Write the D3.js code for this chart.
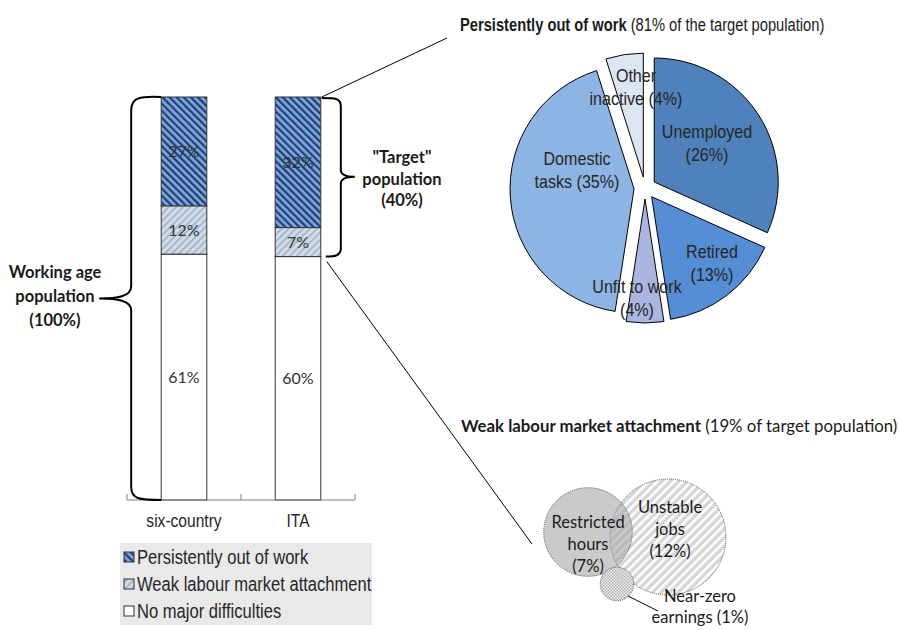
<!DOCTYPE html>
<html>
<head>
<meta charset="utf-8">
<script src="https://cdn.jsdelivr.net/npm/d3@7"></script>
<style>
  html, body { margin: 0; padding: 0; background: #fff; }
  svg { display: block; }
  .narrow { font-family: "Liberation Sans", Arial, sans-serif; }
  .cal { font-family: Lato, "Open Sans", sans-serif; }
</style>
</head>
<body>
<div id="chart"></div>
<script>
/**
 * Working age population breakdown: stacked bars, pie and Venn diagram
 */

// ---- Data ----
const CATEGORIES = ['six-country', 'ITA'];
const SERIES = ['Persistently out of work', 'Weak labour market attachment', 'No major difficulties'];
const OUT_OF_WORK = [27, 32.4];
const WEAK_ATTACHMENT = [12, 7.2];
const NO_DIFFICULTIES = [61, 60.4];

const PIE_LABELS = ['Unemployed', 'Retired', 'Unfit to work', 'Domestic tasks', 'Other inactive'];
const PIE_VALUES = [26, 13, 4, 35, 4];

const VENN_LABELS = ['Restricted hours', 'Unstable jobs', 'Near-zero earnings'];
const VENN_VALUES = [7, 12, 1];

const TARGET_SHARE = 40;
const OUT_OF_WORK_SHARE = 81;
const WEAK_SHARE = 19;

// ---- Layout ----
const W = 899, H = 630;
const BAR = { x0: 127, x1: 355, top: 97, bottom: 500 };
const PIE = { cx: 645, cy: 188, r: 124, explode: 11, lineHeight: 23 };
const PIE_COLORS = ['#4f81bd', '#558ed5', '#aab6e0', '#8eb4e3', '#dce6f2'];
// label centre offsets from pie centre, and word index where the line breaks
const PIE_LABEL_POS = [[62, -45, 1], [67, 75, 1], [-8, 110, 3], [-68, -18, 1], [-9, -101, 1]];
const VENN_POS = [[588, 532], [668, 537], [617, 584]];
// condensed look (Arial Narrow is not available): horizontal squeeze
const NARROW = 0.85;

const svg = d3.select('#chart').append('svg')
    .attr('width', W)
    .attr('height', H)
    .attr('viewBox', `0 0 ${W} ${H}`);

// ---- Patterns ----
const defs = svg.append('defs');

function stripes(id, bg, fg, size, lineW, angle) {
    const p = defs.append('pattern')
        .attr('id', id)
        .attr('patternUnits', 'userSpaceOnUse')
        .attr('width', size)
        .attr('height', size)
        .attr('patternTransform', `rotate(${angle})`);
    p.append('rect').attr('width', size).attr('height', size).attr('fill', bg);
    p.append('rect').attr('width', lineW).attr('height', size).attr('fill', fg);
}
stripes('patOut', '#7ea6dc', '#1f3f73', 5, 2.2, -45);
stripes('patWeak', '#dadada', '#8db3e2', 5, 1.6, 45);
stripes('patUnstable', '#d6d6d6', '#ffffff', 6, 2.6, 45);

const chk = defs.append('pattern')
    .attr('id', 'patNear')
    .attr('patternUnits', 'userSpaceOnUse')
    .attr('width', 3).attr('height', 3);
chk.append('rect').attr('width', 3).attr('height', 3).attr('fill', '#f2f2f2');
chk.append('rect').attr('width', 1.5).attr('height', 1.5).attr('fill', '#b0b0b0');
chk.append('rect').attr('x', 1.5).attr('y', 1.5).attr('width', 1.5).attr('height', 1.5).attr('fill', '#b0b0b0');

const SERIES_FILLS = ['url(#patOut)', 'url(#patWeak)', '#ffffff'];

/**
 * Multi-line text block centred on (cx, cy), optionally squeezed horizontally
 */
function block(g, lines, cx, cy, lh, cls, size, weight, sx = 1, anchor = 'middle') {
    const t = g.append('g')
        .attr('transform', `translate(${cx},${cy}) scale(${sx},1)`)
        .append('text')
        .attr('class', cls)
        .attr('text-anchor', anchor)
        .attr('font-size', size)
        .attr('font-weight', weight)
        .attr('fill', '#1a1a1a');
    lines.forEach((l, i) => {
        t.append('tspan')
            .attr('x', 0)
            .attr('y', (i - (lines.length - 1) / 2) * lh)
            .attr('dy', '0.35em')
            .text(l);
    });
    return t;
}

// ---- Stacked bars ----
const x = d3.scaleBand()
    .domain(CATEGORIES)
    .range([BAR.x0, BAR.x1])
    .paddingInner(0.6)
    .paddingOuter(0.3);

const y = d3.scaleLinear().domain([0, 100]).range([BAR.bottom, BAR.top]);

const rows = CATEGORIES.map((c, i) => ({
    category: c,
    [SERIES[0]]: OUT_OF_WORK[i],
    [SERIES[1]]: WEAK_ATTACHMENT[i],
    [SERIES[2]]: NO_DIFFICULTIES[i]
}));

// bottom-up order: no difficulties, weak, out of work
const stackOrder = [SERIES[2], SERIES[1], SERIES[0]];
const stacked = d3.stack().keys(stackOrder)(rows);

const barG = svg.append('g');
stacked.forEach(layer => {
    const fill = SERIES_FILLS[SERIES.indexOf(layer.key)];
    barG.selectAll(null)
        .data(layer)
        .enter()
        .append('rect')
        .attr('x', d => x(d.data.category))
        .attr('y', d => y(d[1]))
        .attr('width', x.bandwidth())
        .attr('height', d => y(d[0]) - y(d[1]))
        .attr('fill', fill)
        .attr('stroke', '#333')
        .attr('stroke-width', 1);

    barG.selectAll(null)
        .data(layer)
        .enter()
        .append('text')
        .attr('class', 'cal')
        .attr('x', d => x(d.data.category) + x.bandwidth() / 2)
        .attr('y', d => (y(d[0]) + y(d[1])) / 2)
        .attr('dy', '0.35em')
        .attr('text-anchor', 'middle')
        .attr('font-size', 16)
        .attr('fill', '#333')
        .text(d => d3.format('.0f')(d[1] - d[0]) + '%');
});

// x axis: baseline with upward ticks at category boundaries
const axisG = svg.append('g').attr('transform', `translate(0,${BAR.bottom})`);
const step = x.step();
const tickPos = d3.range(CATEGORIES.length + 1).map(i => BAR.x0 + i * step);
axisG.append('line')
    .attr('x1', BAR.x0).attr('x2', BAR.x1)
    .attr('stroke', '#7f7f7f');
axisG.selectAll('.tick')
    .data(tickPos)
    .enter()
    .append('line')
    .attr('x1', d => d).attr('x2', d => d)
    .attr('y1', 0).attr('y2', -6)
    .attr('stroke', '#7f7f7f');
CATEGORIES.forEach(c => {
    block(axisG, [c], x(c) + x.bandwidth() / 2, 20, 0, 'narrow', 19, 'normal', 0.82)
        .attr('fill', '#262626');
});

// ---- Legend ----
const legend = svg.append('g').attr('transform', 'translate(120,543)');
legend.append('rect').attr('width', 252).attr('height', 82).attr('fill', '#e9e9e9');
SERIES.forEach((s, i) => {
    const cy = 14 + i * 27;
    legend.append('rect')
        .attr('x', 4).attr('y', cy - 5)
        .attr('width', 10).attr('height', 10)
        .attr('fill', SERIES_FILLS[i])
        .attr('stroke', '#333');
    block(legend, [s], 17, cy, 0, 'narrow', 19.5, 'normal', NARROW, 'start')
        .attr('fill', '#262626');
});

// ---- Braces and annotations ----
const itaX = x('ITA');
const itaRight = itaX + x.bandwidth();
const leftX = x('six-country');
const yTop = y(100);
const yBot = y(0);
const yMid = (yTop + yBot) / 2;
const yTarget = y(NO_DIFFICULTIES[1]);
const yTMid = (yTop + yTarget) / 2;

const brace = svg.append('g')
    .attr('fill', 'none')
    .attr('stroke', '#000')
    .attr('stroke-width', 2);

const sx = leftX - 30, tip = leftX - 62;
brace.append('path').attr('d',
    `M${leftX},${yTop} C${sx + 8},${yTop - 1} ${sx},${yTop + 1} ${sx},${yTop + 13}
     L${sx},${yMid - 12} C${sx},${yMid - 2} ${sx - 14},${yMid} ${tip},${yMid}
     C${sx - 14},${yMid} ${sx},${yMid + 2} ${sx},${yMid + 12}
     L${sx},${yBot - 13} C${sx},${yBot - 1} ${sx + 8},${yBot} ${leftX},${yBot}`);

const rx = itaRight + 20, rtip = itaRight + 34;
brace.append('path').attr('d',
    `M${itaRight + 1},${yTop + 1} C${rx - 6},${yTop + 1} ${rx},${yTop + 1} ${rx},${yTop + 9}
     L${rx},${yTMid - 7} C${rx},${yTMid - 2} ${rx + 5},${yTMid} ${rtip},${yTMid}
     C${rx + 5},${yTMid} ${rx},${yTMid + 2} ${rx},${yTMid + 7}
     L${rx},${yTarget - 8} C${rx},${yTarget - 1} ${rx - 6},${yTarget} ${itaRight + 5},${yTarget}`);

block(svg, ['Working age', 'population', '(100%)'], 55, yMid - 2, 24, 'cal', 16.5, 'bold');
block(svg, ['"Target"', 'population', `(${TARGET_SHARE}%)`], 402, yTMid + 2, 21.5, 'cal', 16.5, 'bold');

// leader lines
svg.append('line')
    .attr('x1', itaRight + 1).attr('y1', yTop)
    .attr('x2', 447).attr('y2', 38)
    .attr('stroke', '#000').attr('stroke-width', 1);
svg.append('line')
    .attr('x1', itaRight + 6).attr('y1', yTarget + 5)
    .attr('x2', 532).attr('y2', 544)
    .attr('stroke', '#000').attr('stroke-width', 1);

// ---- Titles ----
const t1 = svg.append('g')
    .attr('transform', 'translate(460,31) scale(0.84,1)')
    .append('text')
    .attr('class', 'narrow')
    .attr('font-size', 17.5)
    .attr('fill', '#1a1a1a');
t1.append('tspan').attr('font-weight', 'bold').text('Persistently out of work');
t1.append('tspan').text(` (${OUT_OF_WORK_SHARE}% of the target population)`);

const t2 = svg.append('text')
    .attr('class', 'cal')
    .attr('x', 461).attr('y', 432)
    .attr('font-size', 16.8)
    .attr('fill', '#1a1a1a');
t2.append('tspan').attr('font-weight', 'bold').text('Weak labour market attachment');
t2.append('tspan').text(` (${WEAK_SHARE}% of target population)`);

// ---- Pie ----
const pie = d3.pie().sort(null).value(d => d.value);
const arc = d3.arc().innerRadius(0).outerRadius(PIE.r);
const pieData = pie(PIE_LABELS.map((l, i) => ({ label: l, value: PIE_VALUES[i] })));

const pieG = svg.append('g').attr('transform', `translate(${PIE.cx},${PIE.cy})`);
pieG.selectAll('path')
    .data(pieData)
    .enter()
    .append('path')
    .attr('transform', d => {
        const mid = (d.startAngle + d.endAngle) / 2;
        return `translate(${PIE.explode * Math.sin(mid)},${-PIE.explode * Math.cos(mid)})`;
    })
    .attr('d', arc)
    .attr('fill', (d, i) => PIE_COLORS[i])
    .attr('stroke', '#000')
    .attr('stroke-width', 1);

pieData.forEach((d, i) => {
    const [dx, dy, brk] = PIE_LABEL_POS[i];
    const words = `${d.data.label} (${d.data.value}%)`.split(' ');
    const lines = [words.slice(0, brk).join(' '), words.slice(brk).join(' ')];
    block(pieG, lines, dx, dy, PIE.lineHeight, 'narrow', 17.5, 'normal', 0.92)
        .attr('fill', '#262626');
});

// ---- Venn ----
const rScale = d3.scaleSqrt().domain([0, d3.max(VENN_VALUES)]).range([0, 58]);
const vennFills = ['#a6a6a6', 'url(#patUnstable)', 'url(#patNear)'];
const vennOpacity = [0.6, 1, 1];
const vennOrder = [1, 0, 2];
const vennG = svg.append('g');
vennOrder.forEach(i => {
    vennG.append('circle')
        .attr('cx', VENN_POS[i][0])
        .attr('cy', VENN_POS[i][1])
        .attr('r', rScale(VENN_VALUES[i]))
        .attr('fill', vennFills[i])
        .attr('fill-opacity', vennOpacity[i])
        .attr('stroke', '#555')
        .attr('stroke-width', 1)
        .attr('stroke-dasharray', '1,1');
});

block(vennG, ['Restricted', 'hours', `(${VENN_VALUES[0]}%)`], 588, 544, 22, 'cal', 16.5, 'normal');
block(vennG, ['Unstable', 'jobs', `(${VENN_VALUES[1]}%)`], 670, 529, 22, 'cal', 16.5, 'normal');
block(vennG, ['Near-zero', `earnings (${VENN_VALUES[2]}%)`], 700, 607, 21, 'cal', 16.5, 'normal');

vennG.append('line')
    .attr('x1', 628).attr('y1', 596)
    .attr('x2', 658).attr('y2', 611)
    .attr('stroke', '#000').attr('stroke-width', 1);
</script>
</body>
</html>
